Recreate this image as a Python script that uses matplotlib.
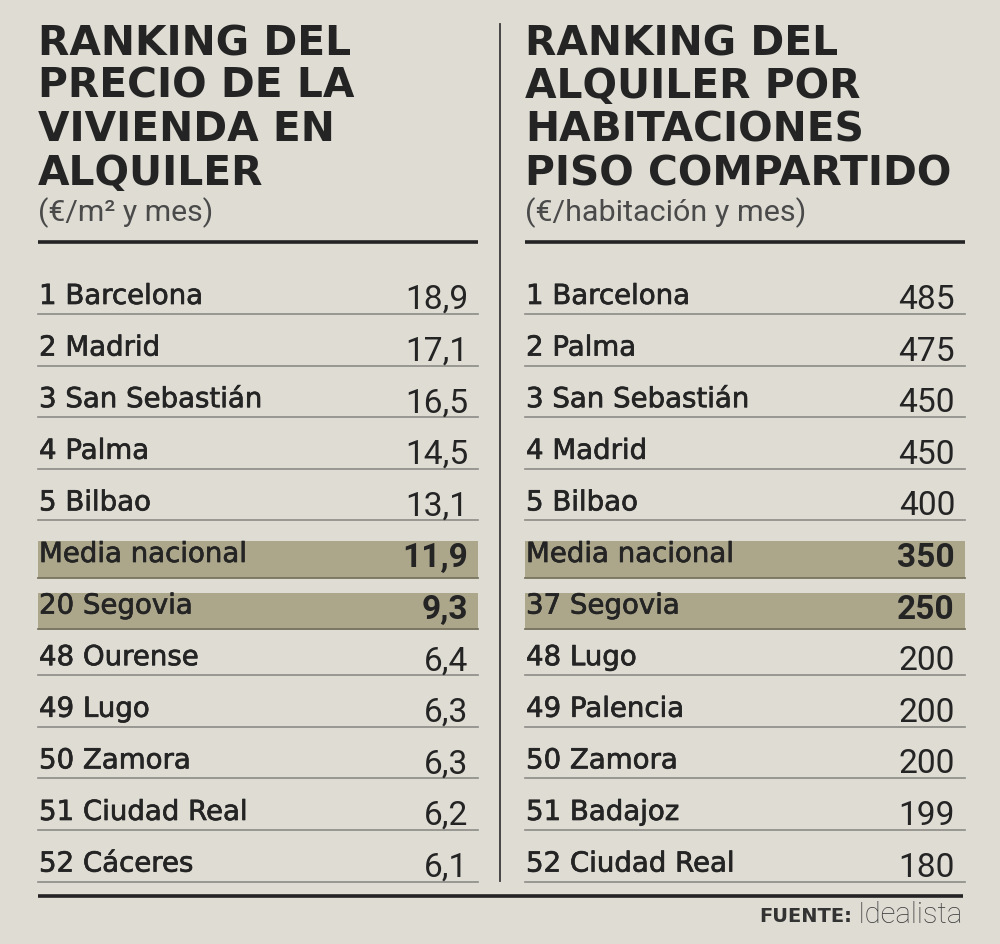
import matplotlib
matplotlib.use("Agg")
import matplotlib.pyplot as plt
from matplotlib.patches import Rectangle
import matplotlib.patheffects as pe

# ---- data ----
left_title = ["RANKING DEL", "PRECIO DE LA", "VIVIENDA EN", "ALQUILER"]
left_sub = "(€/m² y mes)"
left_names = ["1 Barcelona", "2 Madrid", "3 San Sebastián", "4 Palma", "5 Bilbao",
              "Media nacional", "20 Segovia", "48 Ourense", "49 Lugo", "50 Zamora",
              "51 Ciudad Real", "52 Cáceres"]
left_values = [18.9, 17.1, 16.5, 14.5, 13.1, 11.9, 9.3, 6.4, 6.3, 6.3, 6.2, 6.1]

right_title = ["RANKING DEL", "ALQUILER POR", "HABITACIONES", "PISO COMPARTIDO"]
right_sub = "(€/habitación y mes)"
right_names = ["1 Barcelona", "2 Palma", "3 San Sebastián", "4 Madrid", "5 Bilbao",
               "Media nacional", "37 Segovia", "48 Lugo", "49 Palencia", "50 Zamora",
               "51 Badajoz", "52 Ciudad Real"]
right_values = [485, 475, 450, 450, 400, 350, 250, 200, 200, 200, 199, 180]

highlight = ["Media nacional", "20 Segovia", "37 Segovia"]
source_bold = "FUENTE:"
source_text = "Idealista"

# ---- style ----
BG = "#dfdcd4"
HL = "#aca78b"
DARK = "#242424"
GREY = "#8c8b86"

W, H = 1000, 945
fig = plt.figure(figsize=(W / 100, H / 100), dpi=100)
fig.patch.set_facecolor(BG)
ax = fig.add_axes([0, 0, 1, 1])
ax.set_xlim(0, W)
ax.set_ylim(H, 0)
ax.axis("off")
ax.set_facecolor(BG)

renderer = fig.canvas.get_renderer()
inv = ax.transData.inverted()


def width_px(t):
    return t.get_window_extent(renderer=renderer).width


def fit_size(s, target_w, size=20, **kw):
    t = ax.text(0, 0, s, fontsize=size, **kw)
    w = width_px(t)
    t.remove()
    return size * target_w / w


LABEL_KW = dict(family="DejaVu Sans", fontweight="normal")
NUM_KW = dict(family="Roboto", fontweight="normal")
SUB_KW = dict(family="Roboto", fontweight="normal")
label_size = fit_size("1 Barcelona", 164, **LABEL_KW)
num_size = fit_size("18,9", 63, **NUM_KW)
stroke = [pe.withStroke(linewidth=0.5, foreground=DARK)]


def fmt_left(v):
    return f"{v:.1f}".replace(".", ",")


def fmt_right(v):
    return f"{v:d}"


def draw_column(x0, x1, title, sub, sub_w, names, values, fmt):
    title_y = [44, 87, 130, 174]
    for i, line in enumerate(title):
        ax.text(x0, title_y[i], line, fontsize=29.3, fontweight="black",
                family="DejaVu Sans", color=DARK, va="center", ha="left")
    ax.text(x0, 213, sub, fontsize=fit_size(sub, sub_w, **SUB_KW), **SUB_KW,
            color="#4a4a4a", va="center", ha="left")
    ax.plot([x0, x1], [243, 243], color=DARK, lw=2.6, solid_capstyle="butt")

    row0, step = 297, 51.6
    for i, (n, v) in enumerate(zip(names, values)):
        yc = row0 + i * step
        hl = n in highlight
        if hl:
            ax.add_patch(Rectangle((x0, yc - 13), x1 - x0, 37, facecolor=HL,
                                   edgecolor="none", zorder=0))
            ax.plot([x0, x1], [yc + 23.5, yc + 23.5], color="#77745f", lw=1.3)
        else:
            ax.plot([x0, x1], [yc + 18, yc + 18], color=GREY, lw=1.2)
        ax.text(x0 + 1, yc, n, fontsize=label_size, **LABEL_KW,
                color=DARK, va="center", ha="left", path_effects=stroke)
        ax.text(x1 - 10, yc + 3, fmt(v), fontsize=num_size, family="Roboto",
                fontweight="bold" if hl else "normal", color=DARK,
                va="center", ha="right")


draw_column(38, 478, left_title, left_sub, 175, left_names, left_values, fmt_left)
draw_column(525, 965, right_title, right_sub, 280, right_names, right_values, fmt_right)

# divider
ax.plot([500, 500], [25, 882], color="#3a3a3a", lw=1.3)
# bottom rule
ax.plot([38, 963], [897, 897], color=DARK, lw=2.6, solid_capstyle="butt")
# source
src_kw = dict(family="Roboto", fontweight="light")
t2 = ax.text(963, 915, source_text, fontsize=fit_size(source_text, 105, **src_kw),
             **src_kw, color="#3a3a3a", va="center", ha="right")
bb = t2.get_window_extent(renderer=renderer)
xl = inv.transform((bb.x0, bb.y0))[0]
fb_kw = dict(family="DejaVu Sans", fontweight="bold")
ax.text(xl - 6, 916, source_bold, fontsize=fit_size(source_bold, 93, **fb_kw),
        **fb_kw, color="#333333", va="center", ha="right")

fig.savefig("out.png", dpi=100, facecolor=BG)
